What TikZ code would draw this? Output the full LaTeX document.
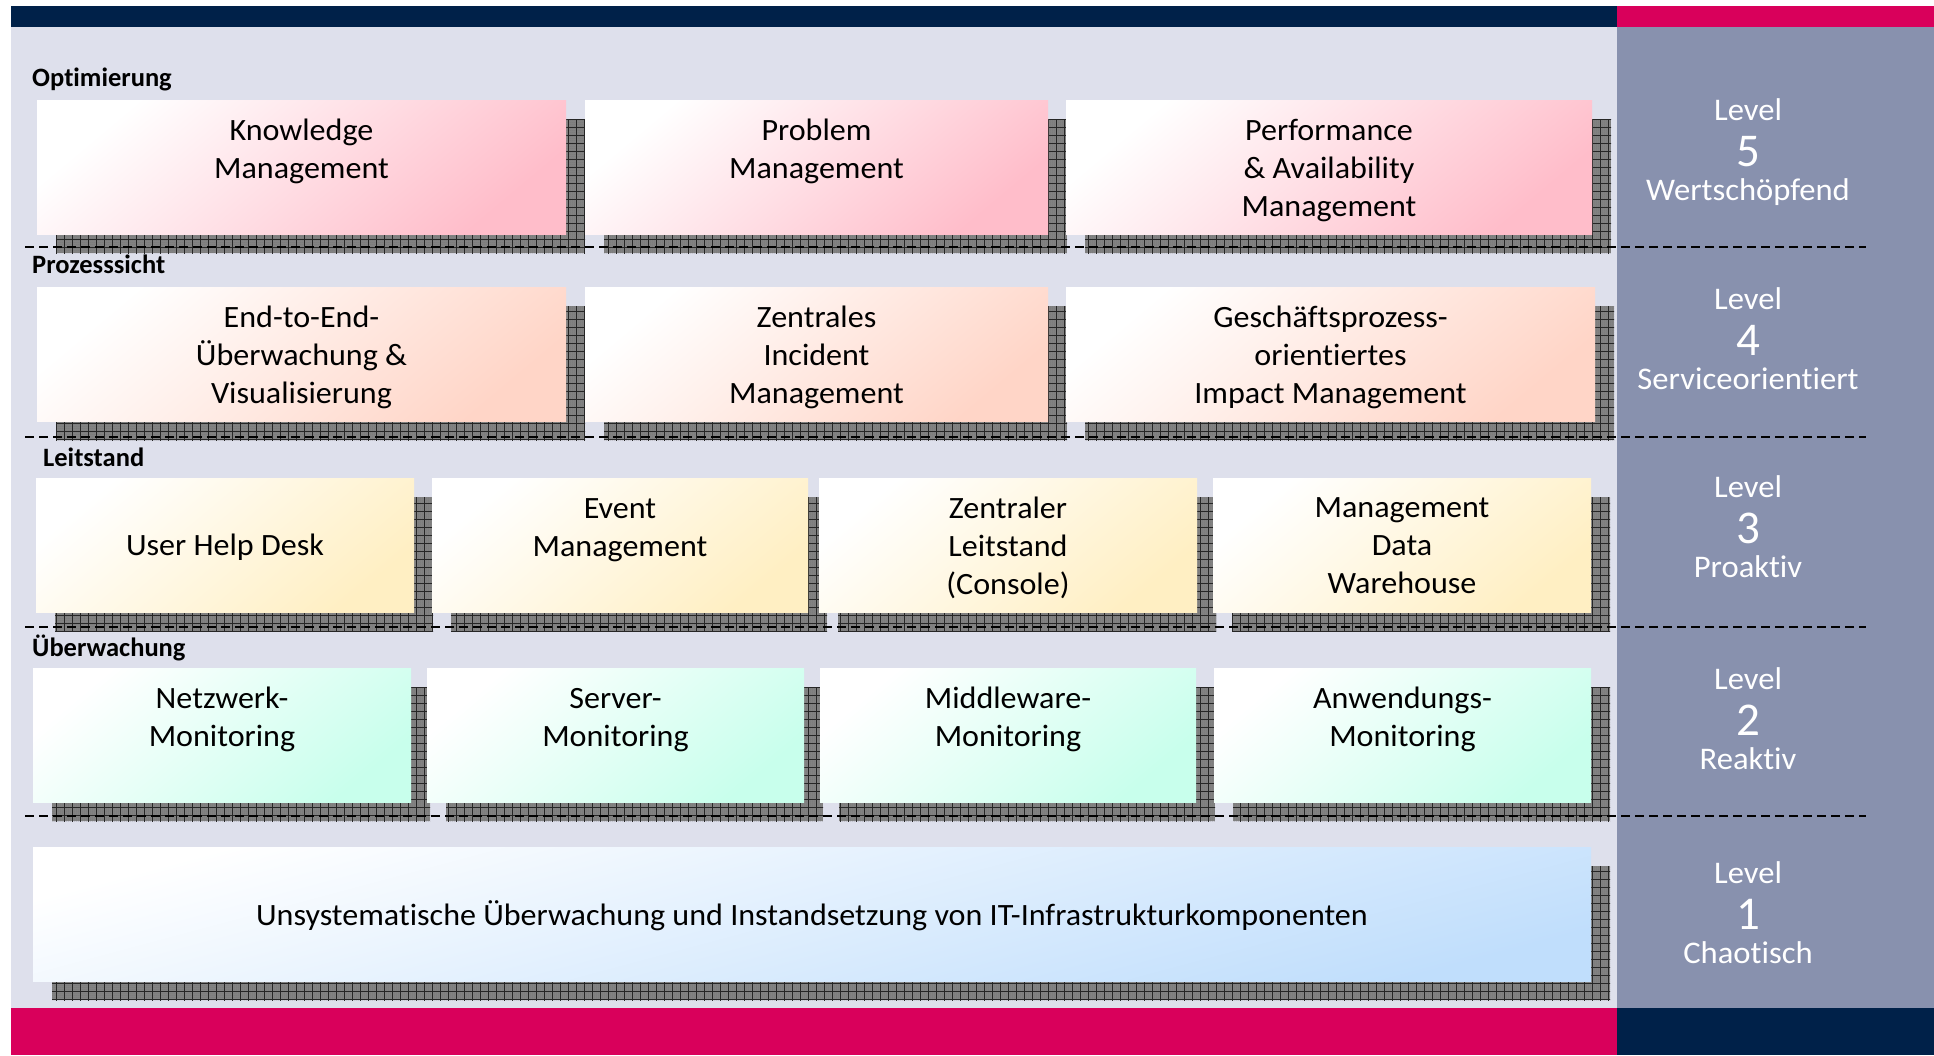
\documentclass[tikz,border=0pt]{standalone}
\usepackage{fontspec}
\setmainfont{Carlito}[Ligatures={NoCommon}]
\newfontfamily\boxfont{Carlito}[Ligatures={NoCommon}, FakeStretch=1.035]
\usetikzlibrary{patterns.meta}
\definecolor{navy}{HTML}{002149}
\definecolor{brandpink}{HTML}{D9005B}
\definecolor{bglight}{HTML}{DEE0EC}
\definecolor{panelgray}{HTML}{8891AE}
\definecolor{shadowgray}{HTML}{858585}
\definecolor{cfive}{HTML}{FFBDCA}
\definecolor{cfour}{HTML}{FFD5C7}
\definecolor{cthree}{HTML}{FFEFC3}
\definecolor{ctwo}{HTML}{C8FFEC}
\definecolor{cone}{HTML}{C0DEFC}
\pgfdeclarelayer{shad}
\pgfsetlayers{shad,main}
\tikzset{
  boxsty/.style={anchor=north west, inner sep=0pt, outer sep=0pt, draw=none},
  shadowsty/.style={fill=shadowgray,
    postaction={pattern={Dots[distance=2pt,radius=0.5pt]}, pattern color=black!60},
    postaction={pattern={Lines[angle=0,distance=8pt,line width=0.9pt]}, pattern color=black!85},
    postaction={pattern={Lines[angle=90,distance=8pt,line width=0.9pt]}, pattern color=black!85}},
  dashsty/.style={draw=black, line width=2pt, dash pattern=on 9pt off 5pt},
  txt/.style={font=\boxfont\fontsize{31}{38}\selectfont, align=flush center, text width=#1, inner sep=0pt, anchor=base},
  seclbl/.style={font=\fontsize{26.5}{30}\selectfont\bfseries, inner sep=0pt, anchor=base west},
  lvl/.style={font=\boxfont\fontsize{31.5}{34}\selectfont, text=white, inner sep=0pt, anchor=base},
  lvlnum/.style={font=\fontsize{47}{50}\selectfont, text=white, inner sep=0pt, anchor=base}
}
% name, x1, y1, x2, y2, colour, angle
\newcommand\mkbox[7]{%
  \node[boxsty, minimum width={#4-#2}, minimum height={#5-#3},
        top color=white, bottom color=#6, shading angle=#7] (#1) at (#2,#3) {};}
\begin{document}
\begin{tikzpicture}[x=1pt,y=-1pt]
\useasboundingbox (0,0) rectangle (1934,1055);
% background bands
\begin{pgfonlayer}{shad}
\fill[bglight] (11,27) rectangle (1617,1008);
\fill[panelgray] (1617,27) rectangle (1934,1008);
\fill[navy] (11,6) rectangle (1617,27);
\fill[brandpink] (1617,6) rectangle (1934,27);
\fill[brandpink] (11,1008) rectangle (1617,1055);
\fill[navy] (1617,1008) rectangle (1934,1055);
\end{pgfonlayer}

% boxes
\mkbox{b51}{37}{100}{566}{234}{cfive}{40}
\mkbox{b52}{585}{100}{1048}{234}{cfive}{40}
\mkbox{b53}{1066}{100}{1592}{234}{cfive}{40}
\mkbox{b41}{37}{287}{566}{421}{cfour}{40}
\mkbox{b42}{585}{287}{1048}{421}{cfour}{40}
\mkbox{b43}{1066}{287}{1595}{421}{cfour}{40}
\mkbox{b31}{36}{478}{414}{612}{cthree}{40}
\mkbox{b32}{432}{478}{808}{612}{cthree}{40}
\mkbox{b33}{819}{478}{1197}{612}{cthree}{40}
\mkbox{b34}{1213}{478}{1591}{612}{cthree}{40}
\mkbox{b21}{33}{668}{411}{802}{ctwo}{40}
\mkbox{b22}{427}{668}{804}{802}{ctwo}{40}
\mkbox{b23}{820}{668}{1196}{802}{ctwo}{40}
\mkbox{b24}{1214}{668}{1591}{802}{ctwo}{40}
\mkbox{b11}{33}{847}{1591}{981}{cone}{15}

% shadows and dashed separators
\begin{pgfonlayer}{shad}
\foreach \b in {b51,b52,b53,b41,b42,b43,b31,b32,b33,b34,b21,b22,b23,b24,b11}{
  \fill[shadowsty] ([shift={(19pt,-19pt)}]\b.north west) rectangle ([shift={(19pt,-19pt)}]\b.south east);
}
\coordinate (d1a) at (25,246.5); \coordinate (d1b) at (1866,246.5);
\coordinate (d2a) at (25,437);   \coordinate (d2b) at (1866,437);
\coordinate (d3a) at (25,627);   \coordinate (d3b) at (1866,627);
\coordinate (d4a) at (25,816);   \coordinate (d4b) at (1866,816);
\draw[dashsty] (d1a) -- (d1b);
\draw[dashsty] (d2a) -- (d2b);
\draw[dashsty] (d3a) -- (d3b);
\draw[dashsty] (d4a) -- (d4b);
\end{pgfonlayer}

% box texts
\node[txt=500pt] (t51) at (301.5,140) {Knowledge\\Management};
\node[txt=450pt] (t52) at (816.5,140) {Problem\\Management};
\node[txt=500pt] (t53) at (1329,140) {Performance\\\& Availability\\Management};
\node[txt=500pt] (t41) at (301.5,327) {End-to-End-\\Überwachung \&\\Visualisierung};
\node[txt=450pt] (t42) at (816.5,327) {Zentrales\\Incident\\Management};
\node[txt=500pt] (t43) at (1330.5,327) {Geschäftsprozess-\\orientiertes\\Impact Management};
\node[txt=360pt] (t31) at (225,555) {User Help Desk};
\node[txt=360pt] (t32) at (620,518) {Event\\Management};
\node[txt=360pt] (t33) at (1008,518) {Zentraler\\Leitstand\\(Console)};
\node[txt=360pt] (t34) at (1402,517) {Management\\Data\\Warehouse};
\node[txt=360pt] (t21) at (222,708) {Netzwerk-\\Monitoring};
\node[txt=360pt] (t22) at (615.5,708) {Server-\\Monitoring};
\node[txt=360pt] (t23) at (1008,708) {Middleware-\\Monitoring};
\node[txt=360pt] (t24) at (1402.5,708) {Anwendungs-\\Monitoring};
\node[txt=1500pt] (t11) at (812,925) {Unsystematische Überwachung und Instandsetzung von IT-Infrastrukturkomponenten};

% section labels
\node[seclbl] (s5) at (32,86) {Optimierung};
\node[seclbl] (s4) at (32,273) {Prozesssicht};
\node[seclbl] (s3) at (43,466) {Leitstand};
\node[seclbl] (s2) at (32,656) {Überwachung};

% level panel
\node[lvl] (l5a) at (1748,120) {Level};
\node[lvlnum] (l5n) at (1748,166) {5};
\node[lvl] (l5b) at (1748,200) {Wertschöpfend};
\node[lvl] (l4a) at (1748,309) {Level};
\node[lvlnum] (l4n) at (1748,355) {4};
\node[lvl] (l4b) at (1748,389) {Serviceorientiert};
\node[lvl] (l3a) at (1748,497) {Level};
\node[lvlnum] (l3n) at (1748,543) {3};
\node[lvl] (l3b) at (1748,577) {Proaktiv};
\node[lvl] (l2a) at (1748,689) {Level};
\node[lvlnum] (l2n) at (1748,735) {2};
\node[lvl] (l2b) at (1748,769) {Reaktiv};
\node[lvl] (l1a) at (1748,883) {Level};
\node[lvlnum] (l1n) at (1748,929) {1};
\node[lvl] (l1b) at (1748,963) {Chaotisch};
\end{tikzpicture}
\end{document}
